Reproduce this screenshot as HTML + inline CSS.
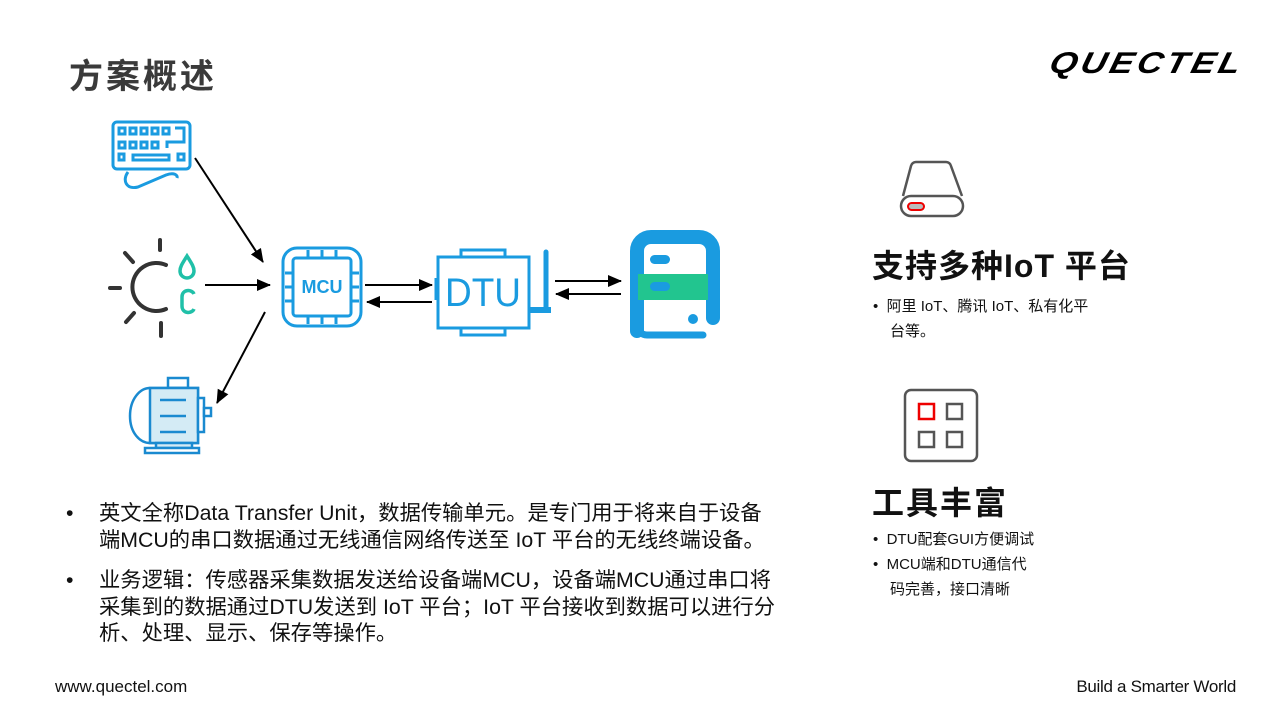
<!DOCTYPE html>
<html><head><meta charset="utf-8"><style>
body{margin:0;width:1280px;height:720px;background:#fff;position:relative;overflow:hidden;font-family:"Liberation Sans","Noto Sans CJK SC",sans-serif;color:#222}
.a{position:absolute;white-space:nowrap}
.b{font-size:21.3px;line-height:26.5px;color:#111}
.s{font-size:15px;line-height:25px;color:#111}
</style></head><body>
<div class="a" style="left:69px;top:49px;font-size:34px;letter-spacing:3px;color:#3a3a3a;font-weight:bold">方案概述</div>
<div class="a" style="left:1050px;top:47px;font-size:30px;font-weight:900;font-style:italic;letter-spacing:3px;color:#000;transform:scaleX(1.18) skewX(-12deg);transform-origin:left">QUECTEL</div>

<svg class="a" style="left:0;top:0" width="1280" height="720">
<defs>
<marker id="ar2" markerWidth="14" markerHeight="12" refX="13" refY="6" orient="auto" markerUnits="userSpaceOnUse"><path d="M0,0 L14,6 L0,12z" fill="#000"/></marker></defs>
<g fill="none" stroke="#1a9be0" stroke-width="3">
<rect x="113" y="122" width="77" height="47" rx="4"/>
<rect x="119" y="128" width="6" height="6"/><rect x="130" y="128" width="6" height="6"/><rect x="141" y="128" width="6" height="6"/><rect x="152" y="128" width="6" height="6"/><rect x="163" y="128" width="6" height="6"/>
<rect x="119" y="142" width="6" height="6"/><rect x="130" y="142" width="6" height="6"/><rect x="141" y="142" width="6" height="6"/><rect x="152" y="142" width="6" height="6"/>
<path d="M175 128h9v14h-17v6"/>
<rect x="119" y="154" width="5" height="6"/><rect x="133" y="155" width="36" height="5"/><rect x="178" y="154" width="6" height="6"/>
<path d="M128 172c-6 8-2 18 10 15l28-12c8-3 12 0 11 3"/>
</g>
<g stroke="#333" stroke-width="4" fill="none" stroke-linecap="round">
<path d="M166 265a24 24 0 1 0 0 44"/>
<line x1="160" y1="240" x2="160" y2="250"/><line x1="161" y1="323" x2="161" y2="336"/>
<line x1="110" y1="288" x2="120" y2="288"/><line x1="125" y1="253" x2="133" y2="262"/><line x1="126" y1="322" x2="134" y2="313"/>
</g>
<g stroke="#20c0a8" stroke-width="3.5" fill="none">
<path d="M187 256c-5 8-7 11-7 15a7 7 0 0 0 14 0c0-4-2-7-7-15z"/>
<path d="M194 294c-2-5-12-5-12 3v9c0 8 10 8 12 3"/>
</g>
<g stroke="#1a8ad0" stroke-width="2.5">
<rect x="168" y="378" width="20" height="10" fill="#fff"/>
<path d="M150 388h48v55h-48c-10 0-20-10-20-27s10-28 20-28z" fill="#fff"/>
<rect x="150" y="388" width="48" height="55" fill="#d4ebf5"/>
<rect x="198" y="398" width="6" height="34" fill="#fff"/><rect x="204" y="408" width="7" height="8" fill="#fff"/>
<line x1="160" y1="400" x2="186" y2="400"/><line x1="160" y1="416" x2="186" y2="416"/><line x1="160" y1="432" x2="186" y2="432"/>
<rect x="156" y="443" width="36" height="5" fill="#d4ebf5"/><rect x="145" y="448" width="54" height="5" fill="#fff"/>
</g>
<g fill="none" stroke="#1a9be0" stroke-width="3">
<rect x="283" y="248" width="78" height="78" rx="14"/>
<rect x="293" y="258" width="58" height="58" rx="3"/>
<path d="M308 250v8M322 250v8M336 250v8M308 316v8M322 316v8M336 316v8M285 273h8M285 287h8M285 301h8M351 273h8M351 287h8M351 301h8"/>
</g>
<text x="322" y="293" text-anchor="middle" font-size="18" font-weight="bold" fill="#1a9be0" font-family="Liberation Sans">MCU</text>
<g fill="none" stroke="#1a9be0" stroke-width="3">
<rect x="438" y="257" width="91" height="71"/>
<rect x="461" y="250" width="44" height="7"/><rect x="461" y="328" width="44" height="7"/>
<line x1="546" y1="252" x2="546" y2="310" stroke-width="5" stroke-linecap="round"/>
<path d="M529 310h22" stroke-width="6"/>
<path d="M437 278v22" stroke-width="5"/>
</g>
<text x="445" y="306" font-size="40" fill="#1a9be0" font-family="Liberation Sans" textLength="76" lengthAdjust="spacingAndGlyphs">DTU</text>
<path d="M637 331v-80a14 14 0 0 1 14-14h48a14 14 0 0 1 14 14v67" fill="none" stroke="#1a9be0" stroke-width="14" stroke-linecap="round"/>
<path d="M637 325a10 10 0 0 0 10 10h56" fill="none" stroke="#1a9be0" stroke-width="7" stroke-linecap="round"/>
<rect x="638" y="274" width="70" height="26" fill="#22c58f"/>
<rect x="650" y="255" width="20" height="9" rx="4.5" fill="#1a9be0"/>
<rect x="650" y="282" width="20" height="9" rx="4.5" fill="#1a9be0"/>
<circle cx="693" cy="319" r="5" fill="#1a9be0"/>
<g stroke="#000" stroke-width="2" fill="none">
<line x1="195" y1="158" x2="263" y2="262" marker-end="url(#ar2)"/>
<line x1="205" y1="285" x2="270" y2="285" marker-end="url(#ar2)"/>
<line x1="265" y1="312" x2="217" y2="403" marker-end="url(#ar2)"/>
<line x1="365" y1="285" x2="432" y2="285" marker-end="url(#ar2)"/>
<line x1="432" y1="302" x2="367" y2="302" marker-end="url(#ar2)"/>
<line x1="555" y1="281" x2="621" y2="281" marker-end="url(#ar2)"/>
<line x1="621" y1="294" x2="556" y2="294" marker-end="url(#ar2)"/>
</g>
<g fill="none" stroke="#555" stroke-width="2.5">
<path d="M903 196l8-30a5 5 0 0 1 5-4h30a5 5 0 0 1 5 4l11 30"/>
<rect x="901" y="196" width="62" height="20" rx="10"/>
</g>
<rect x="908" y="203" width="16" height="7" rx="3.5" fill="#bbb" stroke="#e00" stroke-width="2"/>
<rect x="905" y="390" width="72" height="71" rx="6" fill="none" stroke="#555" stroke-width="2.5"/>
<rect x="919" y="404" width="15" height="15" fill="none" stroke="#e00" stroke-width="2.5"/>
<rect x="947" y="404" width="15" height="15" fill="none" stroke="#555" stroke-width="2.5"/>
<rect x="919" y="432" width="15" height="15" fill="none" stroke="#555" stroke-width="2.5"/>
<rect x="947" y="432" width="15" height="15" fill="none" stroke="#555" stroke-width="2.5"/>
</svg>

<div class="a" style="left:872px;top:241px;font-size:32px;font-weight:bold;color:#111;letter-spacing:1px">支持多种IoT 平台</div>
<div class="a s" style="left:873px;top:294px">•&nbsp;&nbsp;阿里 IoT、腾讯 IoT、私有化平</div>
<div class="a s" style="left:890px;top:319px">台等。</div>
<div class="a" style="left:872px;top:478px;font-size:32px;font-weight:bold;color:#111;letter-spacing:2px">工具丰富</div>
<div class="a s" style="left:873px;top:527px">•&nbsp;&nbsp;DTU配套GUI方便调试</div>
<div class="a s" style="left:873px;top:552px">•&nbsp;&nbsp;MCU端和DTU通信代</div>
<div class="a s" style="left:890px;top:577px">码完善，接口清晰</div>

<div class="a b" style="left:66px;top:500px">•</div>
<div class="a b" style="left:99px;top:500px">英文全称Data Transfer Unit，数据传输单元。是专门用于将来自于设备</div>
<div class="a b" style="left:99px;top:527px">端MCU的串口数据通过无线通信网络传送至 IoT 平台的无线终端设备。</div>
<div class="a b" style="left:66px;top:567px">•</div>
<div class="a b" style="left:99px;top:567px">业务逻辑：传感器采集数据发送给设备端MCU，设备端MCU通过串口将</div>
<div class="a b" style="left:99px;top:594px">采集到的数据通过DTU发送到 IoT 平台；IoT 平台接收到数据可以进行分</div>
<div class="a b" style="left:99px;top:620px">析、处理、显示、保存等操作。</div>

<div class="a" style="left:55px;top:677px;font-size:17px;color:#111">www.quectel.com</div>
<div class="a" style="right:44px;top:677px;font-size:17px;color:#111;letter-spacing:-0.3px">Build a Smarter World</div>
</body></html>
